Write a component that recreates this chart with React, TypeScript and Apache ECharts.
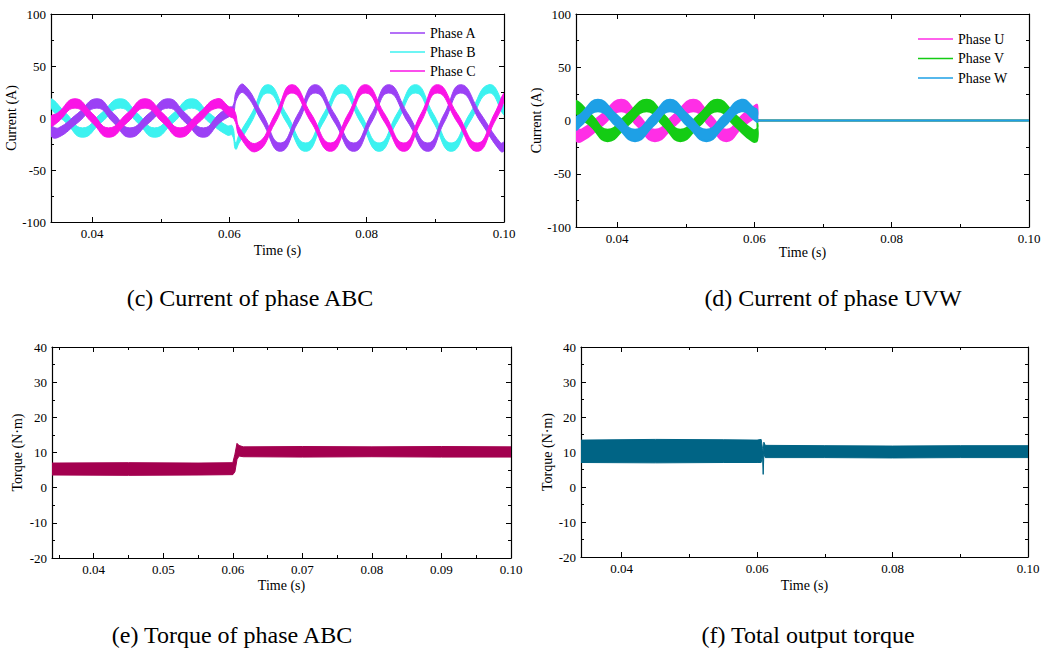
import React, { useEffect, useRef } from 'react';
import * as echarts from 'echarts';

const FONT = 'Liberation Serif, Times New Roman, serif';

// ---- tick values ----
const timeMajor = [0.04, 0.06, 0.08, 0.1];
const timeMinor = [0.05, 0.07, 0.09];
const timeMajorE = [0.04, 0.05, 0.06, 0.07, 0.08, 0.09, 0.1];
const timeMinorE = [0.035, 0.045, 0.055, 0.065, 0.075, 0.085, 0.095];

// ---- (c) phase currents: [time, centre current, ripple band width] ----
const phaseA: number[][] = [
  [0.034, -13, 9], [0.0351, -14, 9], [0.0379, 0, 9], [0.0407, 14, 9], [0.0431, 0, 9], [0.0455, -14, 9],
  [0.0483, 0, 9], [0.0511, 14, 9], [0.0536, 0, 9], [0.0562, -14, 9], [0.0586, 0, 9], [0.06, 6, 9],
  [0.0605, 7, 9], [0.0611, 23, 8], [0.0621, 28, 8], [0.0648, 0, 8], [0.0674, -28, 8], [0.07, 0, 8],
  [0.0725, 28, 8], [0.0753, 0, 8], [0.0781, -28, 8], [0.0807, 0, 8], [0.0832, 28, 8], [0.086, 0, 8],
  [0.0889, -28, 8], [0.0913, 0, 8], [0.0937, 28, 8], [0.0966, 0, 8], [0.0995, -28, 8], [0.1, -27.5, 8],
];
const phaseB: number[][] = [
  [0.034, 14, 9], [0.0362, 0, 9], [0.0386, -14, 9], [0.0413, 0, 9], [0.0441, 14, 9], [0.0466, 0, 9],
  [0.0491, -14, 9], [0.0518, 0, 9], [0.0545, 14, 9], [0.0571, 0, 9], [0.0597, -12, 9], [0.0604, -12, 9],
  [0.0609, -27, 6], [0.0614, -20, 8], [0.0632, 0, 8], [0.0656, 28, 8], [0.0683, 0, 8], [0.0711, -28, 8],
  [0.0737, 0, 8], [0.0764, 28, 8], [0.0791, 0, 8], [0.0818, -28, 8], [0.0844, 0, 8], [0.0871, 28, 8],
  [0.0897, 0, 8], [0.0923, -28, 8], [0.095, 0, 8], [0.0978, 28, 8], [0.1, 7, 8],
];
const phaseC: number[][] = [
  [0.034, -3, 9], [0.0349, 0, 9], [0.0375, 14, 9], [0.04, 0, 9], [0.0424, -14, 9], [0.0451, 0, 9],
  [0.0477, 14, 9], [0.0503, 0, 9], [0.0528, -14, 9], [0.0555, 0, 9], [0.0582, 14, 9], [0.06, 6, 9],
  [0.0607, 3, 9], [0.0616, -15, 8], [0.064, -28, 8], [0.0667, 0, 8], [0.0691, 28, 8], [0.0719, 0, 8],
  [0.0747, -28, 8], [0.0773, 0, 8], [0.0798, 28, 8], [0.0826, 0, 8], [0.0854, -28, 8], [0.0879, 0, 8],
  [0.0903, 28, 8], [0.0932, 0, 8], [0.0961, -28, 8], [0.0986, 0, 8], [0.1, 20, 8],
];

// ---- (d) phase currents UVW: [time, centre current, ripple band width] ----
const phaseU: number[][] = [
  [0.034, -13, 11], [0.0348, -14, 11], [0.0377, 0, 11], [0.0406, 14, 11], [0.043, 0, 11], [0.0455, -14, 11],
  [0.0483, 0, 11], [0.0511, 14, 11], [0.0535, 0, 11], [0.0559, -14, 11], [0.0583, 0, 11], [0.06, 8, 11],
  [0.0604, 9, 11], [0.06045, 0, 0], [0.0607, 0, 0], [0.0612, 0, 0], [0.1, 0, 0],
];
const phaseV: number[][] = [
  [0.034, 13, 11], [0.0362, 0, 11], [0.0386, -14, 11], [0.0414, 0, 11], [0.0443, 14, 11], [0.0468, 0, 11],
  [0.0492, -14, 11], [0.0519, 0, 11], [0.0546, 14, 11], [0.0572, 0, 11], [0.0597, -14, 11], [0.0604, -13, 11],
  [0.06045, 0, 0], [0.0607, 0, 0], [0.0612, 0, 0], [0.1, 0, 0],
];
const phaseW: number[][] = [
  [0.034, -3, 11], [0.0346, 0, 11], [0.0372, 14, 11], [0.0399, 0, 11], [0.0426, -14, 11], [0.0452, 0, 11],
  [0.0477, 14, 11], [0.0503, 0, 11], [0.053, -14, 11], [0.0556, 0, 11], [0.0581, 14, 11], [0.06, 6, 11],
  [0.0604, 4, 11], [0.06045, 0, 0], [0.0607, 0, 0], [0.0612, 0, 0], [0.1, 0, 0],
];

// ---- (e) torque of phase ABC: [time, lower envelope, upper envelope] ----
const torqueABC: number[][] = [
  [0.034, 3.6, 7.0], [0.045, 3.5, 7.1], [0.055, 3.6, 7.0], [0.06, 3.7, 7.1], [0.0603, 4.5, 9.5],
  [0.0606, 8.0, 12.6], [0.0609, 9.0, 12.0], [0.0615, 8.8, 11.6], [0.07, 8.7, 11.7], [0.08, 8.8, 11.6],
  [0.09, 8.7, 11.7], [0.1, 8.7, 11.6],
];
// ---- (f) total output torque: [time, lower envelope, upper envelope] ----
const torqueTotal: number[][] = [
  [0.034, 7.0, 13.4], [0.045, 6.9, 13.6], [0.055, 7.0, 13.5], [0.06, 7.0, 13.4], [0.0606, 7.0, 13.6],
  [0.0608, 9.0, 11.0], [0.0609, 3.6, 10.0], [0.061, 9.5, 12.8], [0.0612, 8.4, 11.9], [0.07, 8.4, 11.8],
  [0.08, 8.3, 11.7], [0.09, 8.4, 11.8], [0.1, 8.4, 11.8],
];

const colA = '#9B41F5';
const colB = '#3CF2F0';
const colC = '#FA14E6';
const colU = '#FF2EE6';
const colV = '#14CC14';
const colW = '#1EA0E6';
const colTqABC = '#A3004F';
const colTqTotal = '#006485';

const grids = [
  { left: 51, top: 14, width: 453, height: 208 },
  { left: 576, top: 14, width: 453, height: 213 },
  { left: 52, top: 347, width: 459, height: 211 },
  { left: 581, top: 347, width: 447, height: 210 },
];

const black = '#000';

function xAxesFor(g: number, majors: number[], minors: number[], nameGap: number) {
  const base: any = {
    gridIndex: g, type: 'value', min: 0.034, max: 0.1,
    splitLine: { show: false },
    axisLine: { show: true, onZero: false, lineStyle: { color: black, width: 1.2 } },
  };
  const label = {
    customValues: majors, formatter: (v: number) => v.toFixed(2),
    color: black, fontFamily: FONT, fontSize: 13, margin: 5,
  };
  return [
    {
      ...base, position: 'bottom',
      axisTick: { show: true, inside: true, length: 5, customValues: majors, lineStyle: { color: black } },
      axisLabel: label,
      name: 'Time (s)', nameLocation: 'middle', nameGap,
      nameTextStyle: { color: black, fontFamily: FONT, fontSize: 14 },
    },
    {
      ...base, position: 'bottom', axisLine: { show: false, onZero: false },
      axisTick: { show: true, inside: true, length: 3, customValues: minors, lineStyle: { color: black } },
      axisLabel: { show: false },
    },
    {
      ...base, position: 'top',
      axisTick: { show: true, inside: true, length: 5, customValues: majors, lineStyle: { color: black } },
      axisLabel: { show: false },
    },
    {
      ...base, position: 'top', axisLine: { show: false, onZero: false },
      axisTick: { show: true, inside: true, length: 3, customValues: minors, lineStyle: { color: black } },
      axisLabel: { show: false },
    },
  ];
}

function yAxesFor(g: number, min: number, max: number, interval: number, name: string, nameGap: number) {
  const base: any = {
    gridIndex: g, type: 'value', min, max, interval,
    splitLine: { show: false },
    axisLine: { show: true, onZero: false, lineStyle: { color: black, width: 1.2 } },
    axisTick: { show: true, inside: true, length: 5, lineStyle: { color: black } },
    minorTick: { show: true, splitNumber: 2, length: 3, lineStyle: { color: black } },
  };
  return [
    {
      ...base, position: 'left',
      axisLabel: { color: black, fontFamily: FONT, fontSize: 13, margin: 5 },
      name, nameLocation: 'middle', nameGap,
      nameTextStyle: { color: black, fontFamily: FONT, fontSize: 14 },
    },
    { ...base, position: 'right', axisLabel: { show: false } },
  ];
}

// band from [t, centre, width]
function currentBand(id: string, g: number, pts: number[][], color: string, edge: number) {
  return {
    type: 'custom', id, name: id, xAxisIndex: g * 4, yAxisIndex: g * 2, clip: true, silent: true,
    data: [[pts[0][0], pts[0][1]]],
    renderItem: (_params: any, api: any) => {
      const up = pts.map((p) => api.coord([p[0], p[1] + p[2] / 2]));
      const lo = pts.map((p) => api.coord([p[0], p[1] - p[2] / 2])).reverse();
      return {
        type: 'polygon',
        shape: { points: up.concat(lo), smooth: 0.5 },
        style: { fill: color, stroke: color, lineWidth: edge },
      };
    },
  };
}

// band from [t, lower, upper]
function torqueBand(id: string, g: number, pts: number[][], color: string) {
  return {
    type: 'custom', id, name: id, xAxisIndex: g * 4, yAxisIndex: g * 2, clip: true, silent: true,
    data: [[pts[0][0], pts[0][1]]],
    renderItem: (_params: any, api: any) => {
      const up = pts.map((p) => api.coord([p[0], p[2]]));
      const lo = pts.map((p) => api.coord([p[0], p[1]])).reverse();
      return {
        type: 'polygon',
        shape: { points: up.concat(lo) },
        style: { fill: color, stroke: color, lineWidth: 1 },
      };
    },
  };
}

function legendLine(name: string, g: number, color: string) {
  return {
    type: 'line', name, xAxisIndex: g * 4, yAxisIndex: g * 2, data: [], symbol: 'none', showSymbol: false,
    lineStyle: { color, width: 2 }, itemStyle: { color },
  };
}

const legendText = { color: black, fontFamily: FONT, fontSize: 14, lineHeight: 14 };

const option: any = {
  animation: false,
  backgroundColor: '#fff',
  grid: grids.map((r) => ({ ...r, containLabel: false })),
  xAxis: [
    ...xAxesFor(0, timeMajor, timeMinor, 21),
    ...xAxesFor(1, timeMajor, timeMinor, 13),
    ...xAxesFor(2, timeMajorE, timeMinorE, 20),
    ...xAxesFor(3, timeMajor, timeMinor, 21),
  ],
  yAxis: [
    ...yAxesFor(0, -100, 100, 50, 'Current (A)', 20),
    ...yAxesFor(1, -100, 100, 50, 'Current (A)', 22),
    ...yAxesFor(2, -20, 40, 10, 'Torque (N·m)', 28),
    ...yAxesFor(3, -20, 40, 10, 'Torque (N·m)', 26),
  ],
  legend: [
    {
      data: ['Phase A', 'Phase B', 'Phase C'], orient: 'vertical', left: 390, top: 26,
      icon: 'rect', itemWidth: 35, itemHeight: 1.6, itemGap: 5, padding: 0, selectedMode: false,
      textStyle: legendText,
    },
    {
      data: ['Phase U', 'Phase V', 'Phase W'], orient: 'vertical', left: 918, top: 32,
      icon: 'rect', itemWidth: 35, itemHeight: 1.6, itemGap: 5.5, padding: 0, selectedMode: false,
      textStyle: legendText,
    },
  ],
  series: [
    currentBand('bandB', 0, phaseB, colB, 1),
    currentBand('bandA', 0, phaseA, colA, 1),
    currentBand('bandC', 0, phaseC, colC, 1),
    legendLine('Phase A', 0, colA),
    legendLine('Phase B', 0, colB),
    legendLine('Phase C', 0, colC),
    currentBand('bandU', 1, phaseU, colU, 1.8),
    currentBand('bandV', 1, phaseV, colV, 1.8),
    currentBand('bandW', 1, phaseW, colW, 1.8),
    legendLine('Phase U', 1, colU),
    legendLine('Phase V', 1, colV),
    legendLine('Phase W', 1, colW),
    torqueBand('torqueABC', 2, torqueABC, colTqABC),
    torqueBand('torqueTotal', 3, torqueTotal, colTqTotal),
  ],
  graphic: [
    { type: 'text', x: 250, y: 298, style: { text: '(c) Current of phase ABC', fontFamily: FONT, fontSize: 24, fill: black, align: 'center', verticalAlign: 'middle' } },
    { type: 'text', x: 833, y: 298, style: { text: '(d) Current of phase UVW', fontFamily: FONT, fontSize: 24, fill: black, align: 'center', verticalAlign: 'middle' } },
    { type: 'text', x: 232, y: 635, style: { text: '(e) Torque of phase ABC', fontFamily: FONT, fontSize: 24, fill: black, align: 'center', verticalAlign: 'middle' } },
    { type: 'text', x: 808, y: 635, style: { text: '(f) Total output torque', fontFamily: FONT, fontSize: 24, fill: black, align: 'center', verticalAlign: 'middle' } },
  ],
};

export default function App() {
  const ref = useRef<HTMLDivElement>(null);
  useEffect(() => {
    if (!ref.current) return;
    const chart = echarts.init(ref.current, null, { renderer: 'svg' });
    chart.setOption(option);
    return () => chart.dispose();
  }, []);
  return (
    <div
      ref={ref}
      style={{ position: 'fixed', left: 0, top: 0, width: 1054, height: 650, background: '#fff' }}
    />
  );
}
